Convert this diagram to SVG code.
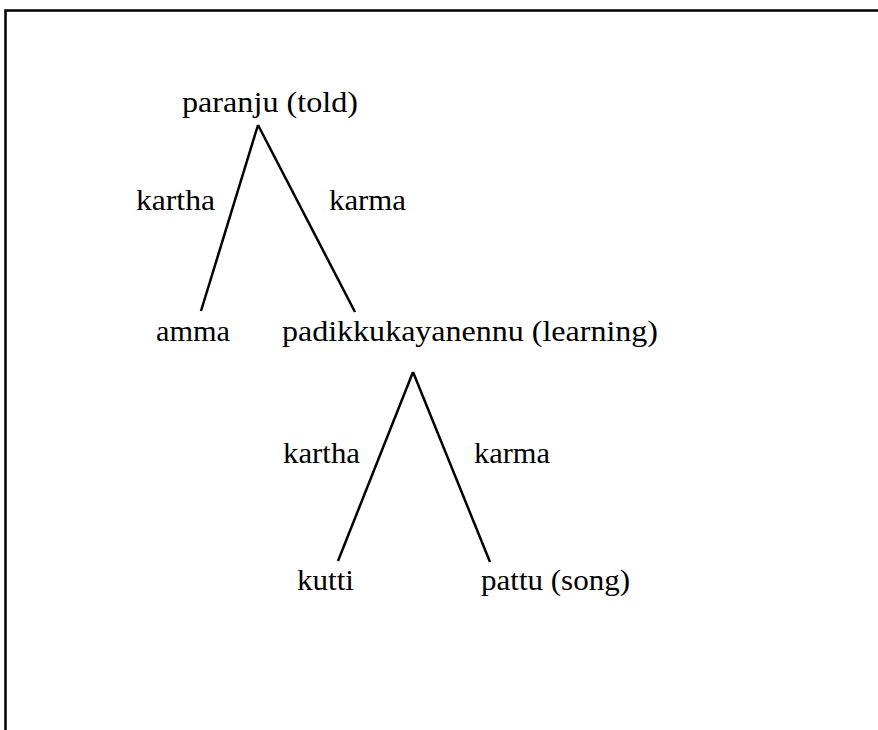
<svg xmlns="http://www.w3.org/2000/svg" width="878" height="730" viewBox="0 0 878 730">
<style>
text{font-family:"Liberation Serif","Times New Roman",serif;font-size:30px;fill:#000}
.e{stroke:#000;stroke-width:2.5;fill:none;stroke-linecap:butt}
.f{stroke:#000;stroke-width:2.5;fill:none}
</style>
<rect width="878" height="730" fill="#fff"/>
<g id="frame"><path class="f" d="M5.5,730 V10.5 H878"/></g>
<g id="connectors">
<line class="e" x1="258" y1="125" x2="201" y2="311"/>
<line class="e" x1="258" y1="125" x2="355" y2="312"/>
<line class="e" x1="413" y1="372" x2="338" y2="561"/>
<line class="e" x1="413" y1="372" x2="490" y2="562"/>
</g>
<g id="edge-labels">
<text x="136" y="210" textLength="79" lengthAdjust="spacingAndGlyphs">kartha</text>
<text x="329" y="210" textLength="77" lengthAdjust="spacingAndGlyphs">karma</text>
<text x="283" y="463" textLength="77" lengthAdjust="spacingAndGlyphs">kartha</text>
<text x="474" y="463" textLength="76" lengthAdjust="spacingAndGlyphs">karma</text>
</g>
<g id="n-paranju"><text x="182" y="112" textLength="176" lengthAdjust="spacingAndGlyphs">paranju (told)</text></g>
<g id="n-amma"><text x="156" y="341" textLength="74" lengthAdjust="spacingAndGlyphs">amma</text></g>
<g id="n-padikk"><text x="282" y="341" textLength="376" lengthAdjust="spacingAndGlyphs">padikkukayanennu (learning)</text></g>
<g id="n-kutti"><text x="297" y="590" textLength="57" lengthAdjust="spacingAndGlyphs">kutti</text></g>
<g id="n-pattu"><text x="481" y="590" textLength="149" lengthAdjust="spacingAndGlyphs">pattu (song)</text></g>
</svg>
